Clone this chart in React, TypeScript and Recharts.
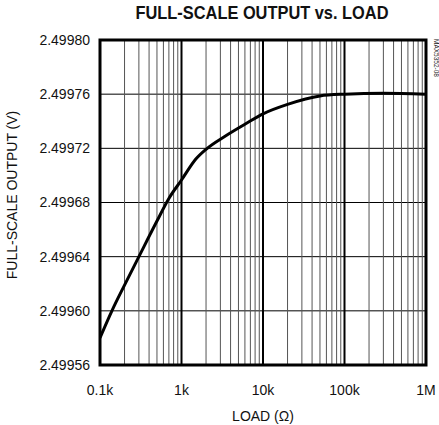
import React from 'react';
import { LineChart, Line, XAxis, YAxis, CartesianGrid, ReferenceLine, ReferenceArea, Label } from 'recharts';

const loads = [100, 140, 200, 300, 500, 700, 1000, 1500, 2000, 3500, 6000, 10000, 20000, 50000, 100000, 300000, 1000000];
const outputs = [2.49958, 2.4996, 2.499619, 2.49964, 2.4996663, 2.499683, 2.4996966, 2.4997121, 2.4997193, 2.4997293, 2.4997378, 2.4997455, 2.4997525, 2.4997587, 2.49976, 2.4997607, 2.49976];
const xTicks = [100, 200, 300, 400, 500, 600, 700, 800, 900, 1000, 2000, 3000, 4000, 5000, 6000, 7000, 8000, 9000, 10000, 20000, 30000, 40000, 50000, 60000, 70000, 80000, 90000, 100000, 200000, 300000, 400000, 500000, 600000, 700000, 800000, 900000, 1000000];
const decadeTicks = [1000, 10000, 100000];
const xLabels: Record<number, string> = { 100: '0.1k', 1000: '1k', 10000: '10k', 100000: '100k', 1000000: '1M' };
const yTicks = [2.49956, 2.4996, 2.49964, 2.49968, 2.49972, 2.49976, 2.4998];

const data = loads.map((l, i) => ({ load: l, v: outputs[i] }));

const FONT = '"Liberation Sans", Arial, sans-serif';

export default function App() {
  return (
    <div style={{ position: 'absolute', left: 0, top: 0, width: 439, height: 425, background: '#fff', fontFamily: FONT }}>
      <div style={{ position: 'absolute', left: 100, width: 326, top: 3, textAlign: 'center' }}>
        <span style={{ display: 'inline-block', transform: 'scaleX(0.91)', fontFamily: FONT, fontWeight: 'bold', fontSize: 18, color: '#111', whiteSpace: 'nowrap', marginLeft: -3 }}>
          FULL-SCALE OUTPUT vs. LOAD
        </span>
      </div>
      <div style={{ position: 'absolute', left: 440, top: 39, fontSize: 6.5, lineHeight: '8px', color: '#222', transform: 'rotate(90deg)', transformOrigin: '0 0', whiteSpace: 'nowrap' }}>
        MAX5352-08
      </div>
      <LineChart width={439} height={425} data={data} margin={{ top: 40, right: 13, bottom: 5, left: 0 }}>
        <CartesianGrid stroke="#000" strokeWidth={1} vertical={false} />
        <CartesianGrid stroke="#555" strokeWidth={1} horizontal={false} />
        <XAxis
          dataKey="load"
          type="number"
          scale="log"
          domain={[100, 1000000]}
          allowDataOverflow
          ticks={xTicks}
          interval={0}
          tickFormatter={(t: number) => xLabels[t] ?? ''}
          tickLine={false}
          axisLine={false}
          tickSize={0}
          tickMargin={20}
          height={55}
          tick={{ fill: '#111', fontSize: 14, fontFamily: FONT }}
        >
          <Label value="LOAD (Ω)" position="insideBottom" offset={-1} style={{ fill: '#111', fontSize: 14, fontFamily: FONT }} />
        </XAxis>
        <YAxis
          type="number"
          domain={[2.49956, 2.4998]}
          ticks={yTicks}
          interval={0}
          tickFormatter={(t: number) => t.toFixed(5)}
          tickLine={false}
          axisLine={false}
          tickSize={0}
          tickMargin={10}
          width={100}
          tick={{ fill: '#111', fontSize: 14, fontFamily: FONT }}
        >
          <Label
            content={() => (
              <text x={12} y={195} transform="rotate(-90 12 195)" textAnchor="middle" dominantBaseline="central" fill="#111" fontSize={14} fontFamily={FONT}>
                FULL-SCALE OUTPUT (V)
              </text>
            )}
          />
        </YAxis>
        {decadeTicks.map((d) => (
          <ReferenceLine key={d} x={d} stroke="#000" strokeWidth={2} />
        ))}
        <ReferenceArea x1={100} x2={1000000} y1={2.49956} y2={2.4998} fill="none" stroke="#000" strokeWidth={3} />
        <Line type="monotone" dataKey="v" stroke="#000" strokeWidth={3} dot={false} isAnimationActive={false} />
      </LineChart>
    </div>
  );
}
